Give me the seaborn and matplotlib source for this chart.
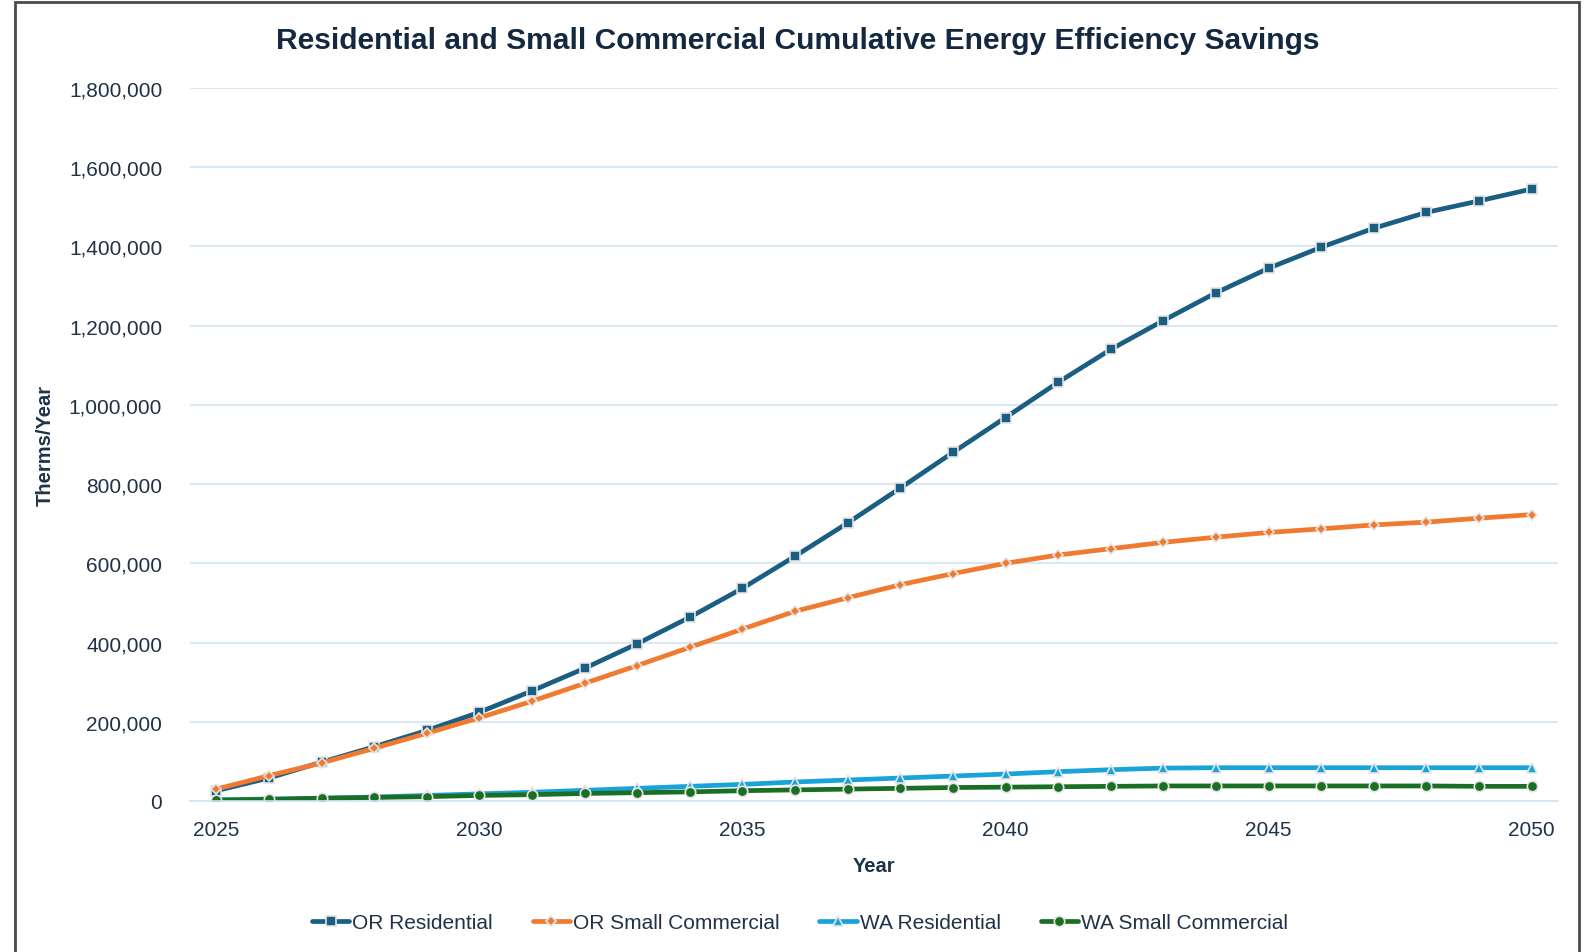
import matplotlib
matplotlib.use("Agg")
import matplotlib.pyplot as plt
import seaborn as sns
import pandas as pd
from matplotlib import font_manager
from matplotlib.patches import Rectangle
from matplotlib.ticker import FuncFormatter, FixedLocator

years = [2025, 2026, 2027, 2028, 2029, 2030, 2031, 2032, 2033, 2034, 2035, 2036, 2037,
         2038, 2039, 2040, 2041, 2042, 2043, 2044, 2045, 2046, 2047, 2048, 2049, 2050]
or_residential = [26000, 58000, 98000, 137000, 178000, 224000, 278000, 335000, 397000,
                  464000, 537000, 618000, 702000, 790000, 880000, 968000, 1057000, 1140000,
                  1213000, 1283000, 1345000, 1398000, 1446000, 1486000, 1515000, 1545000]
or_small_commercial = [30000, 64000, 96000, 133000, 171000, 210000, 252000, 297000, 342000,
                       388000, 434000, 479000, 513000, 546000, 574000, 600000, 621000, 637000,
                       653000, 666000, 678000, 687000, 697000, 704000, 714000, 723000]
wa_residential = [3000, 5000, 7000, 10000, 14000, 18000, 22000, 27000, 32000, 37000, 42000,
                  48000, 53000, 58000, 63000, 68000, 74000, 79000, 83000, 84000, 84000, 84000,
                  84000, 84000, 84000, 84000]
wa_small_commercial = [2000, 4000, 7000, 9000, 11000, 14000, 16000, 19000, 21000, 23000, 26000,
                       28000, 30000, 32000, 34000, 35000, 36000, 37000, 38000, 38000, 38000,
                       38000, 38000, 38000, 37000, 37000]
series_names = ["OR Residential", "OR Small Commercial", "WA Residential", "WA Small Commercial"]

sns.set_theme(style="white")
names = {f.name for f in font_manager.fontManager.ttflist}
narrow = "Liberation Sans Narrow" if "Liberation Sans Narrow" in names else "Liberation Sans"
plt.rcParams["font.family"] = ["Liberation Sans", "DejaVu Sans"]

W, H = 1588, 953
fig = plt.figure(figsize=(W / 100, H / 100), dpi=100)
ax = fig.add_axes([190 / W, 1 - 802 / H, 1368 / W, (802 - 89) / H])

pos = list(range(len(years)))
df = pd.DataFrame({"pos": pos, series_names[0]: or_residential,
                   series_names[1]: or_small_commercial,
                   series_names[2]: wa_residential,
                   series_names[3]: wa_small_commercial})

styles = [
    ("#1b5e83", "s", 7.5),
    ("#ef7a30", "D", 5.5),
    ("#19a3db", "^", 7.5),
    ("#1b6f25", "o", 7.5),
]
for name, (col, mk, ms) in zip(series_names, styles):
    sns.lineplot(data=df, x="pos", y=name, ax=ax, color=col, linewidth=3.4,
                 marker=mk, markersize=ms, markeredgecolor="#e4e4e4",
                 markeredgewidth=1.2, label=name, legend=False)

grid_c = "#d3e3f4"
text_c = "#1e3248"
ax.set_ylim(0, 1800000)
ax.set_xlim(-0.5, len(years) - 0.5)
ax.yaxis.set_major_locator(FixedLocator([i * 200000 for i in range(10)]))
ax.yaxis.set_major_formatter(FuncFormatter(lambda v, p: f"{int(v):,}"))
ax.grid(axis="y", color=grid_c, linewidth=1.2)
ax.set_axisbelow(True)
for s in ["left", "right", "top"]:
    ax.spines[s].set_visible(False)
ax.spines["bottom"].set_color(grid_c)
ax.spines["bottom"].set_linewidth(1.2)

ax.set_xticks([p for p in pos if years[p] % 5 == 0])
ax.set_xticklabels([str(years[p]) for p in pos if years[p] % 5 == 0])
ax.set_xticks([p - 0.5 for p in pos] + [len(years) - 0.5], minor=True)
ax.tick_params(axis="x", which="major", length=0, pad=14, labelsize=15, labelcolor=text_c)
ax.tick_params(axis="x", which="minor", length=7, width=1.2, color=grid_c, direction="out")
ax.tick_params(axis="y", length=0, pad=20, labelsize=15, labelcolor=text_c)

ax.set_xlabel("Year", fontsize=14.5, fontweight="bold", color=text_c, labelpad=12)
ax.set_ylabel("Therms/Year", fontsize=14.5, fontweight="bold", color=text_c, labelpad=10)

title = fig.text(798 / W, 1 - 41 / H, "Residential and Small Commercial Cumulative Energy Efficiency Savings",
                 ha="center", va="center", fontsize=22, fontweight="bold", color="#14293f",
                 family=[narrow, "DejaVu Sans"])
fig.canvas.draw()
w = title.get_window_extent().width
title.set_fontsize(22 * 1043 / w)

handles, labels = ax.get_legend_handles_labels()
leg = fig.legend(handles, labels, loc="center", bbox_to_anchor=(800 / W, 1 - 924 / H),
                 ncol=4, frameon=False, handlelength=1.8, handletextpad=0.15,
                 columnspacing=1.9, prop={"family": [narrow, "DejaVu Sans"], "size": 15})
for t in leg.get_texts():
    t.set_color(text_c)

fig.add_artist(Rectangle((15 / W, -0.02), (1579 - 15) / W, 1.02 - 3 / H, transform=fig.transFigure,
                         fill=False, edgecolor="#4a4a4a", linewidth=2, clip_on=False))

fig.savefig("out.png", dpi=100)
